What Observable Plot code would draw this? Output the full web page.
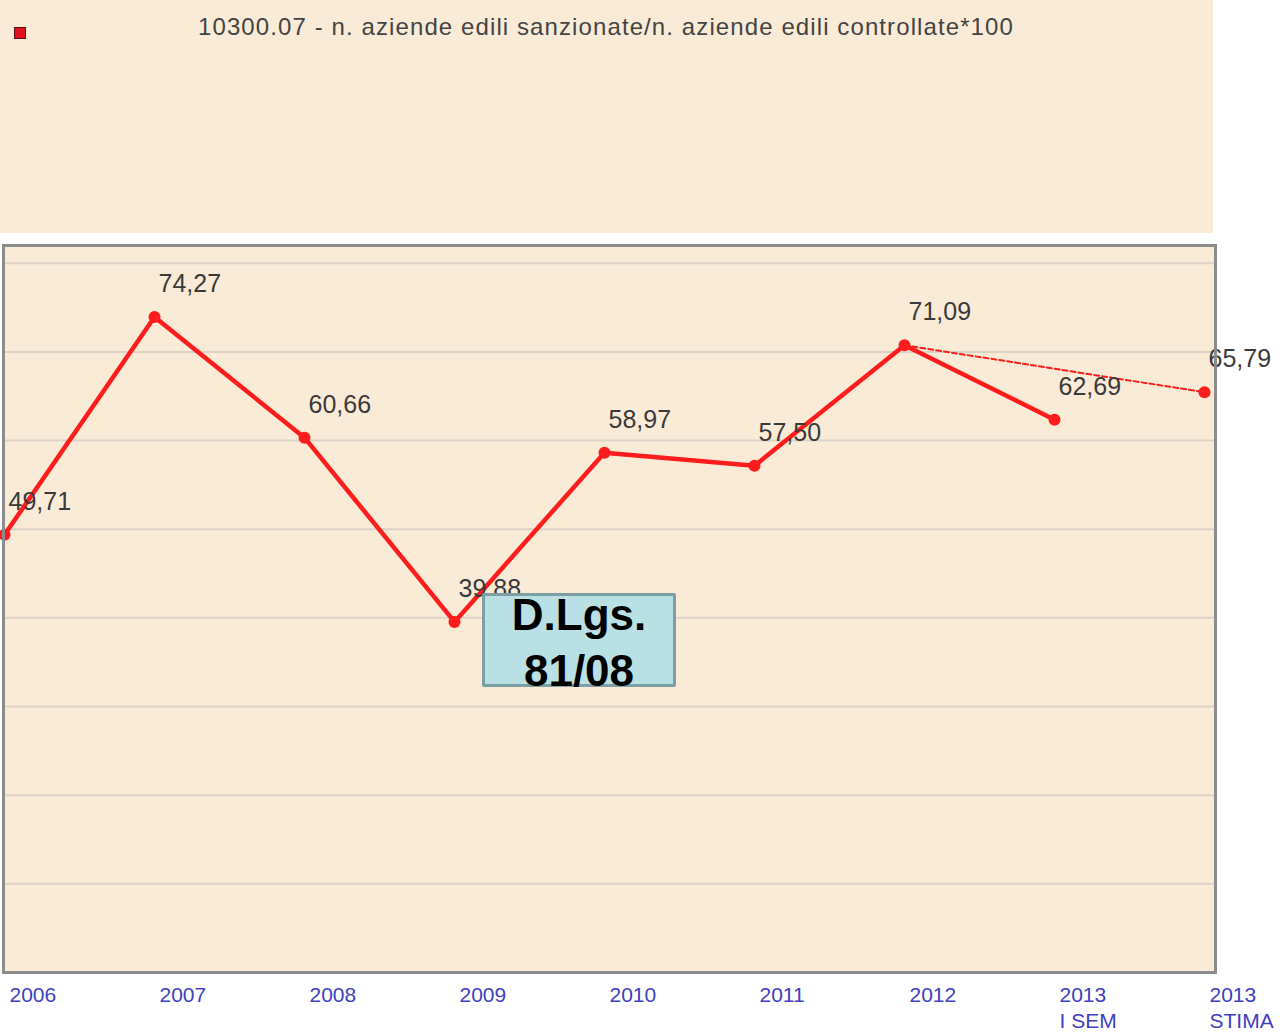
<!DOCTYPE html>
<html>
<head>
<meta charset="utf-8">
<script src="https://cdn.jsdelivr.net/npm/d3@7"></script>
<script src="https://cdn.jsdelivr.net/npm/@observablehq/plot@0.6"></script>
<style>
  html, body { margin: 0; padding: 0; background: #ffffff; }
  body { width: 1287px; height: 1034px; position: relative; overflow: hidden; font-family: Arial, "Liberation Sans", sans-serif; }
  #legend { position: absolute; left: 0; top: 0; width: 1213px; height: 233px; background: #faebd7; }
  #legend .swatch { position: absolute; left: 14px; top: 27px; width: 10px; height: 10px; background: #e0101a; border: 1px solid #5a1010; }
  #legend .label { position: absolute; left: 198px; top: 13px; font-size: 24px; color: #444444; white-space: nowrap; letter-spacing: 1.1px; }
  #chart { position: absolute; left: 0; top: 240px; }
  #note-box { position: absolute; left: 482px; top: 593px; width: 188px; height: 88px; background: #b9e0e4; border: 3px solid #7d9ea3; border-radius: 2px; }
  #note-text { position: absolute; left: 482px; top: 587px; width: 194px; text-align: center; font-weight: bold; font-size: 44px; line-height: 56px; color: #000; }
</style>
</head>
<body>
<div id="legend"><div class="swatch"></div><div class="label"></div></div>
<div id="chart"></div>
<div id="note-box"></div>
<div id="note-text">D.Lgs.<br>81/08</div>
<script>
// ---- data ----
const seriesName = "10300.07 - n. aziende edili sanzionate/n. aziende edili controllate*100";
const categories = ["2006", "2007", "2008", "2009", "2010", "2011", "2012", "2013\nI SEM", "2013\nSTIMA"];
const values = [49.71, 74.27, 60.66, 39.88, 58.97, 57.50, 71.09, 62.69, 65.79];
const solidCount = 8;             // 2006 .. 2013 I SEM joined by solid line
const dashedFrom = 6, dashedTo = 8; // 2012 -> 2013 STIMA dashed
const gridValues = [10, 20, 30, 40, 50, 60, 70, 80];

document.querySelector("#legend .label").textContent = seriesName;

const data = categories.map((c, i) => ({cat: c, value: values[i]}));
const solid = data.slice(0, solidCount);
const dashed = [data[dashedFrom], data[dashedTo]];
const fmt = v => v.toFixed(2).replace(".", ",");

const red = "#ff1c1c";
const chart = Plot.plot({
  width: 1287,
  height: 794,
  marginTop: 5,
  marginBottom: 62,
  marginLeft: 3,
  marginRight: 72,
  style: {background: "transparent", fontFamily: "Arial, 'Liberation Sans', sans-serif", overflow: "visible"},
  x: {type: "point", domain: categories, range: [2, 1205], padding: 0},
  y: {domain: [0, 82], axis: null},
  marks: [
    Plot.frame({fill: "#faebd7"}),
    Plot.ruleY(gridValues, {stroke: "#dcd3c6", strokeWidth: 2}),
    Plot.line(dashed, {x: "cat", y: "value", stroke: red, strokeWidth: 2, strokeDasharray: "5,3", dy: 3}),
    Plot.line(solid, {x: "cat", y: "value", stroke: red, strokeWidth: 4.5, dy: 3}),
    Plot.dot(data, {x: "cat", y: "value", r: 6, fill: red, dy: 3}),
    Plot.text(data, {x: "cat", y: "value", text: d => fmt(d.value), textAnchor: "start", lineAnchor: "bottom", dx: 4, dy: -22, fontSize: 25, fill: "#3a3a3a"}),
    Plot.axisX({tickSize: 0, tickPadding: 12, textAnchor: "start", dx: 5, fontSize: 21, fill: "#4040c0", lineHeight: 1.2, label: null}),
    Plot.frame({stroke: "#8c8c8c", strokeWidth: 3})
  ]
});
document.getElementById("chart").appendChild(chart);
</script>
</body>
</html>
